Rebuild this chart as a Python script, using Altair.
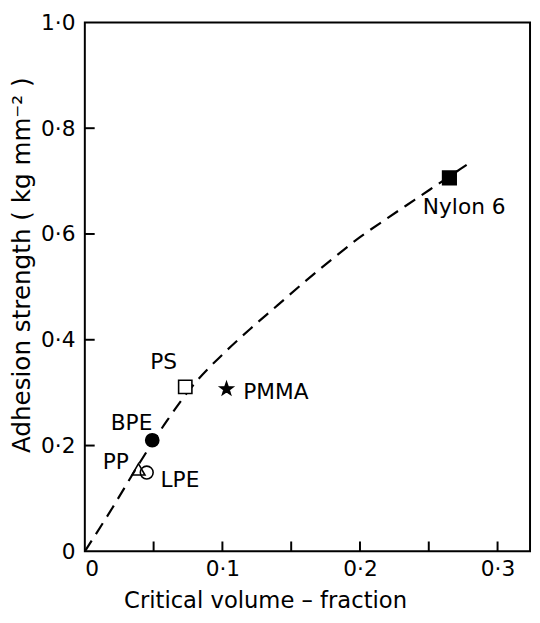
import altair as alt
import pandas as pd

# ---- data ----
names = ["Nylon 6", "PMMA", "PS", "BPE", "PP", "LPE"]
vol_frac = [0.265, 0.103, 0.073, 0.049, 0.039, 0.045]
strength = [0.706, 0.307, 0.311, 0.210, 0.155, 0.149]

curve_x = [0.0, 0.02, 0.04, 0.06, 0.08, 0.10, 0.12, 0.14, 0.16, 0.18, 0.20, 0.22, 0.24, 0.26, 0.28]
curve_y = [0.0, 0.082, 0.168, 0.248, 0.318, 0.372, 0.42, 0.465, 0.51, 0.553, 0.594, 0.63, 0.665, 0.70, 0.735]

x_tick_labels = [0, 0.1, 0.2, 0.3]
y_tick_labels = [0, 0.2, 0.4, 0.6, 0.8, 1.0]
x_minor_ticks = [0.05, 0.1, 0.15, 0.2, 0.25, 0.3]
y_minor_ticks = [0.2, 0.4, 0.6, 0.8]

STAR = "M0,-1L0.235,-0.324L0.951,-0.309L0.38,0.124L0.588,0.809L0,0.4L-0.588,0.809L-0.38,0.124L-0.951,-0.309L-0.235,-0.324Z"
marker_shapes = ["square", STAR, "square", "circle", "triangle-up", "circle"]
marker_fills = ["black", "black", "white", "black", "transparent", "transparent"]
marker_sizes = [190, 170, 150, 170, 90, 110]

FONT = "DejaVu Sans"
W, H = 452, 537
XMAX = 0.3236

pts = pd.DataFrame({"name": names, "x": vol_frac, "y": strength})
curve = pd.DataFrame({"x": curve_x, "y": curve_y})
xt = pd.DataFrame({"x": x_minor_ticks})
yt = pd.DataFrame({"y": y_minor_ticks})

xscale = alt.Scale(domain=[0, XMAX], nice=False, zero=True)
yscale = alt.Scale(domain=[0, 1.0], nice=False)

lab_expr = "datum.value == 0 ? '0' : replace(format(datum.value, '.1f'), '.', '·')"

xaxis = alt.Axis(values=x_tick_labels, labelExpr=lab_expr, ticks=False, domain=False, grid=False,
                 labelFont=FONT, labelFontSize=22, labelColor="black", labelPadding=8,
                 title="Critical volume – fraction", titleFont=FONT, titleFontSize=23,
                 titleFontWeight="normal", titleColor="black", titleX=183, titleY=50,
                 titleAnchor="start", titleAlign="center", titleBaseline="middle")
yaxis = alt.Axis(values=y_tick_labels, labelExpr=lab_expr, ticks=False, domain=False, grid=False,
                 labelFont=FONT, labelFontSize=22, labelColor="black", labelPadding=10,
                 title="Adhesion strength ( kg mm⁻² )", titleFont=FONT, titleFontSize=25,
                 titleFontWeight="normal", titleColor="black", titleX=-64, titleY=246,
                 titleAlign="center", titleBaseline="middle", titleAngle=-90)

line = alt.Chart(curve).mark_line(color="black", strokeWidth=2.2, strokeDash=[13, 8],
                                  interpolate="monotone").encode(
    x=alt.X("x:Q", scale=xscale, axis=xaxis),
    y=alt.Y("y:Q", scale=yscale, axis=yaxis),
)

xticks = alt.Chart(xt).mark_rule(color="black", strokeWidth=2).encode(
    x=alt.X("x:Q", scale=xscale), y=alt.value(H), y2=alt.value(H - 10))
yticks = alt.Chart(yt).mark_rule(color="black", strokeWidth=2).encode(
    y=alt.Y("y:Q", scale=yscale), x=alt.value(0), x2=alt.value(10))

points = alt.Chart(pts).mark_point(filled=True, stroke="black", strokeWidth=1.6, opacity=1).encode(
    x=alt.X("x:Q", scale=xscale),
    y=alt.Y("y:Q", scale=yscale),
    shape=alt.Shape("name:N", scale=alt.Scale(domain=names, range=marker_shapes), legend=None),
    fill=alt.Fill("name:N", scale=alt.Scale(domain=names, range=marker_fills), legend=None),
    size=alt.Size("name:N", scale=alt.Scale(domain=names, range=marker_sizes), legend=None),
)

def label(name, dx, dy, align="center"):
    return alt.Chart(pts).transform_filter(alt.datum.name == name).mark_text(
        font=FONT, fontSize=22, color="black", dx=dx, dy=dy, align=align, baseline="middle"
    ).encode(x=alt.X("x:Q", scale=xscale), y=alt.Y("y:Q", scale=yscale), text="name:N")

labels = [
    label("Nylon 6", 15, 30),
    label("PMMA", 17, 3, "left"),
    label("PS", -22, -25),
    label("BPE", -21, -17),
    label("PP", -23, -7),
    label("LPE", 14, 8, "left"),
]

chart = alt.layer(line, xticks, yticks, points, *labels).properties(
    width=W, height=H,
    autosize=alt.AutoSizeParams(type="none"),
    padding={"left": 78, "top": 10, "right": 2, "bottom": 60},
).configure_view(stroke="black", strokeWidth=2)

chart.save("out.html", embed_options={"renderer": "svg", "actions": False})
